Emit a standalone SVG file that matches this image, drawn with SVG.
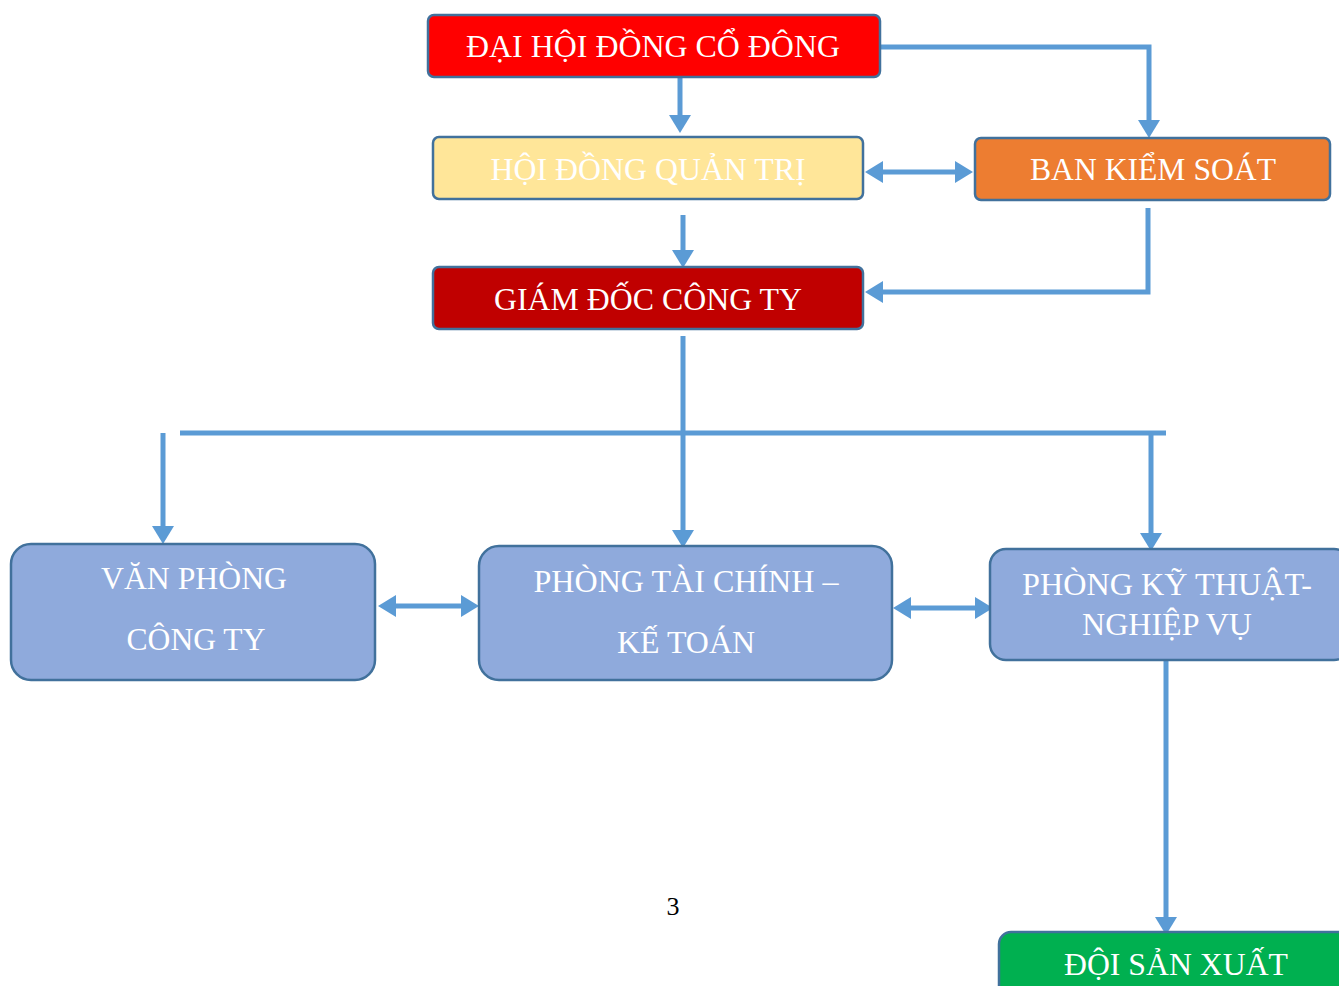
<svg xmlns="http://www.w3.org/2000/svg" width="1339" height="986" viewBox="0 0 1339 986">
<defs>
<style>
.box{stroke:#41719C;stroke-width:2.5}
.t{font-family:"Liberation Serif","Times New Roman",serif;fill:#FFFFFF;text-anchor:middle}
.c{fill:none;stroke:#5B9BD5;stroke-width:5}
.a{marker-end:url(#ah)}
.d{marker-start:url(#ah);marker-end:url(#ah)}
</style>
<marker id="ah" viewBox="0 0 18 22" refX="8" refY="11" markerWidth="18" markerHeight="22" markerUnits="userSpaceOnUse" orient="auto-start-reverse">
<path d="M0,0 L18,11 L0,22 z" fill="#5B9BD5"/>
</marker>
</defs>
<rect width="1339" height="986" fill="#FFFFFF"/>
<g id="connectors">
<path class="c a" d="M680 78 V123"/>
<path class="c a" d="M881 47 H1149 V128"/>
<path class="c d" d="M875 172 H963"/>
<path class="c a" d="M683 215 V258"/>
<path class="c a" d="M1148 208 V292 H875"/>
<path class="c a" d="M683 336 V538"/>
<path class="c" d="M180 433 H1166"/>
<path class="c a" d="M163 433 V534"/>
<path class="c a" d="M1151 433 V541"/>
<path class="c d" d="M388 606 H469"/>
<path class="c d" d="M903 608 H983"/>
<path class="c a" d="M1166 660 V925"/>
</g>
<g id="dhdcd">
<rect class="box" x="428" y="15" width="452" height="62" rx="6" fill="#FF0000"/>
<text class="t" x="653" y="57" font-size="31" textLength="374" lengthAdjust="spacingAndGlyphs">ĐẠI HỘI ĐỒNG CỔ ĐÔNG</text>
</g>
<g id="hdqt">
<rect class="box" x="433" y="137" width="430" height="62" rx="6" fill="#FFE699"/>
<text class="t" x="648" y="180" font-size="31" textLength="315" lengthAdjust="spacingAndGlyphs">HỘI ĐỒNG QUẢN TRỊ</text>
</g>
<g id="bks">
<rect class="box" x="975" y="138" width="355" height="62" rx="6" fill="#ED7D31"/>
<text class="t" x="1153" y="180" font-size="31" textLength="246" lengthAdjust="spacingAndGlyphs">BAN KIỂM SOÁT</text>
</g>
<g id="gdct">
<rect class="box" x="433" y="267" width="430" height="62" rx="6" fill="#C00000"/>
<text class="t" x="648" y="310" font-size="31" textLength="308" lengthAdjust="spacingAndGlyphs">GIÁM ĐỐC CÔNG TY</text>
</g>
<g id="vpct">
<rect class="box" x="11" y="544" width="364" height="136" rx="20" fill="#8FAADC"/>
<text class="t" x="194" y="589" font-size="31" textLength="186" lengthAdjust="spacingAndGlyphs">VĂN PHÒNG</text>
<text class="t" x="196" y="650" font-size="31" textLength="139" lengthAdjust="spacingAndGlyphs">CÔNG TY</text>
</g>
<g id="ptckt">
<rect class="box" x="479" y="546" width="413" height="134" rx="20" fill="#8FAADC"/>
<text class="t" x="686" y="592" font-size="31" textLength="305" lengthAdjust="spacingAndGlyphs">PHÒNG TÀI CHÍNH –</text>
<text class="t" x="686" y="653" font-size="31" textLength="138" lengthAdjust="spacingAndGlyphs">KẾ TOÁN</text>
</g>
<g id="pktnv">
<rect class="box" x="990" y="549" width="360" height="111" rx="16" fill="#8FAADC"/>
<text class="t" x="1167" y="595" font-size="31" textLength="290" lengthAdjust="spacingAndGlyphs">PHÒNG KỸ THUẬT-</text>
<text class="t" x="1167" y="635" font-size="31" textLength="170" lengthAdjust="spacingAndGlyphs">NGHIỆP VỤ</text>
</g>
<g id="dsx">
<rect class="box" x="999" y="932" width="360" height="70" rx="12" fill="#00B050"/>
<text class="t" x="1176" y="975" font-size="31" textLength="224" lengthAdjust="spacingAndGlyphs">ĐỘI SẢN XUẤT</text>
</g>
<text x="673" y="915" font-family="Liberation Serif, 'Times New Roman', serif" font-size="26" fill="#000000" text-anchor="middle">3</text>
</svg>
